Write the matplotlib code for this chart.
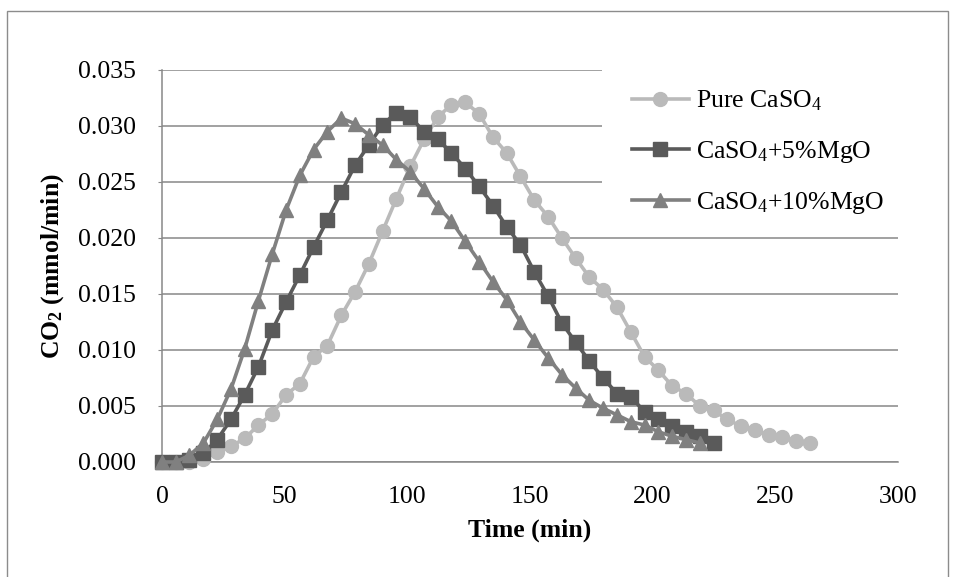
import numpy as np
import matplotlib
matplotlib.use("Agg")
import matplotlib.pyplot as plt
from matplotlib.patches import Rectangle

# sampling times (min)
time = [0, 5.6, 11.2, 16.9, 22.5, 28.1, 33.7, 39.3, 45.0, 50.6, 56.2, 61.8,
        67.4, 73.1, 78.7, 84.3, 89.9, 95.5, 101.2, 106.8, 112.4, 118.0, 123.6,
        129.3, 134.9, 140.5, 146.1, 151.7, 157.4, 163.0, 168.6, 174.2, 179.8,
        185.5, 191.1, 196.7, 202.3, 207.9, 213.6, 219.2, 224.8, 230.4, 236.0,
        241.7, 247.3, 252.9, 258.5, 264.1]

pure = [0, 0, 0, 0.0003, 0.0009, 0.0014, 0.0021, 0.0033, 0.0043, 0.0060,
        0.0070, 0.0094, 0.0104, 0.0131, 0.0152, 0.0177, 0.0206, 0.0235, 0.0264,
        0.0288, 0.0308, 0.0319, 0.0321, 0.0311, 0.0290, 0.0276, 0.0255, 0.0234,
        0.0219, 0.0200, 0.0182, 0.0165, 0.0154, 0.0138, 0.0116, 0.0094, 0.0082,
        0.0068, 0.0061, 0.0050, 0.0046, 0.0038, 0.0032, 0.0029, 0.0024, 0.0022,
        0.0019, 0.0017]

mgo5 = [0, 0, 0.0002, 0.0008, 0.0020, 0.0038, 0.0060, 0.0085, 0.0118, 0.0143,
        0.0167, 0.0192, 0.0216, 0.0241, 0.0265, 0.0283, 0.0301, 0.0312, 0.0308,
        0.0295, 0.0288, 0.0276, 0.0262, 0.0246, 0.0229, 0.0210, 0.0194, 0.0170,
        0.0148, 0.0124, 0.0107, 0.0090, 0.0075, 0.0061, 0.0058, 0.0045, 0.0038,
        0.0032, 0.0027, 0.0023, 0.0017]

mgo10 = [0, 0, 0.0006, 0.0017, 0.0038, 0.0065, 0.0101, 0.0144, 0.0186, 0.0225,
         0.0256, 0.0279, 0.0295, 0.0307, 0.0302, 0.0292, 0.0283, 0.0270, 0.0259,
         0.0244, 0.0228, 0.0215, 0.0197, 0.0179, 0.0161, 0.0145, 0.0125, 0.0109,
         0.0093, 0.0078, 0.0066, 0.0055, 0.0048, 0.0042, 0.0036, 0.0033, 0.0027,
         0.0023, 0.0020, 0.0017]

labels = ['Pure CaSO$\\mathregular{_4}$', 'CaSO$\\mathregular{_4}$+5%MgO',
          'CaSO$\\mathregular{_4}$+10%MgO']

plt.rcParams['font.family'] = 'Liberation Serif'
plt.rcParams['font.size'] = 18.5
plt.rcParams['mathtext.default'] = 'regular'

fig = plt.figure(figsize=(9.59, 5.77), dpi=100)
ax = fig.add_axes([162/959, 1-462/577, 736/959, 392/577])

# outer chart border (bottom edge falls just outside the picture)
fig.patches.append(Rectangle((7/959, -4/577), 941/959, 570/577, transform=fig.transFigure,
                             fill=False, edgecolor='#8c8c8c', lw=1))

ax.plot(time, pure, '-o', color='#bababa', lw=2.6, ms=10, label=labels[0],
        zorder=3, clip_on=False)
ax.plot(time[:len(mgo5)], mgo5, '-s', color='#5a5a5a', lw=2.6, ms=9.5, label=labels[1],
        zorder=4, clip_on=False)
ax.plot(time[:len(mgo10)], mgo10, '-^', color='#808080', lw=2.6, ms=10, label=labels[2],
        zorder=5, clip_on=False)

ax.set_xlim(0, 300)
ax.set_ylim(0, 0.035)
ax.set_xticks(np.arange(0, 301, 50))
ax.set_yticks(np.arange(0, 0.0351, 0.005))
ax.yaxis.set_major_formatter(matplotlib.ticker.FormatStrFormatter('%.3f'))
ax.grid(axis='y', color='#888888', lw=1.1)
ax.set_axisbelow(True)
for s in ['top', 'right']:
    ax.spines[s].set_visible(False)
ax.spines['left'].set_color('#888888')
ax.spines['bottom'].set_color('#888888')
ax.spines['left'].set_linewidth(1.1)
ax.spines['bottom'].set_linewidth(1.1)
ax.tick_params(axis='y', length=3, color='#888888', pad=16)
ax.tick_params(axis='x', length=0, pad=17)

ax.set_xlabel('Time (min)', fontweight='bold')
ax.set_ylabel('CO$\\mathregular{_2}$ (mmol/min)', fontweight='bold')
ax.xaxis.set_label_coords(0.5, -0.145)
ax.yaxis.set_label_coords(-0.13, 0.5)

# legend area blanks the grid lines behind it
ax.add_patch(Rectangle((0.598, 0.63), 0.42, 0.4, transform=ax.transAxes,
                       facecolor='white', edgecolor='none', clip_on=False, zorder=1))
ax.legend(loc='upper left', bbox_to_anchor=(0.6386, 0.952), frameon=False,
          handlelength=2.2, handletextpad=0.3, labelspacing=0.98, borderpad=0,
          borderaxespad=0)

fig.savefig('out.png', dpi=100)
